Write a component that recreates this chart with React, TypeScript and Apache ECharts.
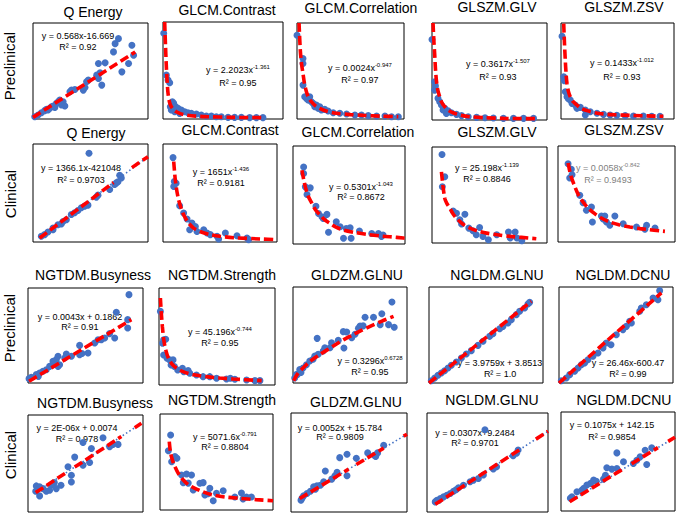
import React, { useEffect, useRef } from "react";
import * as echarts from "echarts";

// ---------- DATA (panel-relative values, 0-100 on both axes) ----------
// Row 1: Preclinical
const preQEnergyPts = [[1.5,2.4],[4.4,4.2],[7.3,6.6],[10.2,8.7],[11.7,10],[14.6,11.1],[16,12.8],[17.5,13.5],[20.4,16.3],[21.9,18],[23.3,19.7],[26.2,18],[27.7,13.5],[24.8,14.5],[19,12.1],[13.1,9.3],[32.1,28.4],[33.5,30.1],[36.4,30.8],[43.7,30.1],[45.2,32.9],[46.6,38.8],[48.1,40.5],[55.4,45.7],[56.9,42.2],[58.3,48.1],[59.8,35.3],[56.9,57.8],[62.7,58.5],[71.4,78.5],[70,69.9],[74.3,83.7],[77.3,49.1],[83.1,57.8],[86,76.8],[87.5,66.4]];
const preQEnergyFit = [[[0,1.7],[88.9,69.9]]];

const preContrastPts = [[0.6,88.4],[2.8,45.2],[4.2,40.1],[5.6,37.3],[6.1,12.7],[7.8,17.8],[8.9,16.1],[10.6,12.7],[12.5,11],[15.3,9.2],[18.1,7.5],[20.8,6.5],[23.6,5.8],[27.8,5.1],[31.9,4.1],[36.1,3.1],[40.3,3.1],[44.4,2.4],[48.6,2.4],[54.2,1.7],[59.7,1.7],[65.3,1.7],[72.2,1.4],[77.8,1.4],[83.3,1.4],[13.9,5.8],[9.7,7.5],[6.9,9.2]];
const preContrastFit = [[[1.4,100],[2.1,75],[2.8,53.8],[3.5,38],[4.2,26.4],[5.5,17],[6.9,12.7],[8.5,10],[11.1,7.5],[15,5.3],[19.4,4.1],[27,3],[36.1,2.4],[58.3,1.7],[84.7,1.4]]];

const preCorrelationPts = [[0,87.2],[5.6,63],[5.6,57.8],[5.6,35.3],[7.2,23.2],[8.8,21.5],[11.9,23.2],[10.3,19.7],[13.4,18],[15,16.3],[18.1,14.5],[21.3,12.8],[22.8,9.3],[25.9,10],[29.1,8.3],[33.8,6.6],[40,5.9],[46.3,5.2],[54.1,4.2],[60.3,4.2],[66.6,3.5],[74.4,3.1],[82.2,3.1],[88.4,2.4],[94.7,2.4],[19.7,11.1],[16.6,12.8]];
const preCorrelationFit = [[[1.9,100],[3.1,71.6],[4.3,57],[5.6,47.4],[7,37],[8.8,28.4],[10.8,22.5],[13.4,18],[17,14],[21.3,11.1],[28,8],[36.9,5.9],[50,4.6],[61.9,3.8],[78,3],[94.7,2.4]]];

const preGlvPts = [[0,82.9],[2.3,39.4],[2.3,30.8],[3,35],[5.2,22.3],[6.7,18.8],[8.2,15.4],[11.1,12],[14,9.6],[16.9,7.5],[21.3,5.8],[25.7,4.5],[31.5,3.4],[38.8,2.7],[46.1,2.4],[53.4,2.1],[62.1,1.7],[70.8,1.7],[79.6,1.7],[88.3,1.7],[12.5,6.8],[9.6,10.3]];
const preGlvFit = [[[0.9,100],[1.6,82],[2.3,68.5],[3,53],[3.8,41.1],[5,31],[6.7,24],[8.5,18],[11.1,13.7],[14.5,10],[18.4,7.5],[25,5],[32.9,3.4],[45,2.4],[62.1,1.7],[89.8,1.4]]];

const preZsvPts = [[0.9,86.2],[2.4,44],[2.9,40],[3.8,28.4],[5.3,23.2],[8.2,19.7],[9.7,16.3],[12.6,14.5],[17.1,12.1],[21.5,9.3],[21.5,4.2],[25.9,7.6],[31.8,5.9],[37.6,4.8],[43.5,4.2],[49.4,3.8],[56.8,3.5],[64.1,3.1],[72.9,3.1],[80.3,2.8],[87.6,2.8],[14.1,11.1],[6.5,21]];
const preZsvFit = [[[2.4,99.3],[3.1,78],[3.8,61.2],[4.5,47],[5.3,37],[6.5,29],[8.2,23.2],[10.8,18],[14.1,14.5],[18,11],[22.9,8.7],[30,6.5],[37.6,5.2],[48,4.4],[61.2,3.8],[90.6,2.8]]];

// Row 2: Clinical
const cliQEnergyPts = [[48.7,90.5],[7.2,5.8],[10.1,7.5],[13,10.2],[17.4,14.2],[17.4,12.5],[21.7,17.6],[24.6,18.3],[26.1,21],[29,22.7],[33.3,28.1],[36.2,29.8],[39.1,32.2],[42,34.9],[44.9,36.6],[47.8,37.6],[55.1,45.8],[56.5,47.8],[66.7,53.6],[71,58.6],[72.5,60.3],[73.9,61.4],[75.4,68.1],[76.8,65.4]];
const cliQEnergyFit = [[[5.8,4.1],[70,60.7]],[[86,75.9],[100,87.1]]];
const cliQEnergyTrend = [[5.8,4.1],[100,87.1]];

const cliContrastPts = [[8.8,86.1],[9.9,61.7],[9.4,56.6],[11.5,60],[14.6,36.9],[18.1,29.5],[21.1,23.4],[23.4,12.5],[25.4,19.3],[28.4,15.9],[29.8,10.8],[35.7,12.5],[38.6,9.2],[41.5,7.5],[47.4,5.8],[48.8,3.1],[54.7,9.2],[64.9,6.4],[73.7,4.1],[75.1,2.4]];
const cliContrastFit = [[[9.4,82],[10.1,72],[10.8,63.4],[12,53],[13.7,43.1],[15.8,35],[18.1,27.8],[22,20],[26.9,14.2],[33,10.5],[41.5,7.5],[50,5.8],[62,4.4],[85.4,3.1],[100,2.4]]];

const cliCorrelationPts = [[9.5,78.6],[9.5,71.9],[11,58.3],[15.4,57.3],[12.5,50.5],[20.5,38.6],[22.8,31.2],[25.8,27.8],[30.3,30.2],[27,26],[31.7,11.9],[38.6,22.7],[42.1,17.6],[45.1,5.8],[47.5,15.9],[51,16.6],[51.9,5.8],[59.3,13.2],[70.3,10.8],[76.3,10.8],[80.4,9.2],[79,7.8]];
const cliCorrelationFit = [[[8,75.3],[9.5,66],[11,58.3],[13.5,49],[16.9,41.4],[20,35],[24.3,29.5],[28,25],[33.2,21],[38,17.5],[45.1,14.2],[55,11.8],[65.9,9.8],[80,8],[92.6,6.8],[106,5.1]]];

const cliGlvPts = [[8.7,92.1],[11.1,69],[9,58.6],[18.4,33.4],[21.3,31],[28.6,30],[24.2,24.1],[25.7,19.7],[35.6,12.8],[41.4,16.2],[38.5,8.6],[44.3,6.9],[49,3.4],[56.3,8.6],[66.5,11.4],[68,5.2],[72.3,11.4],[73.8,5.2],[78.1,2.4],[32,15.5]];
const cliGlvFit = [[[8.2,74.1],[9.5,60],[11.1,46.6],[13,41],[15.5,36.2],[18.5,30],[22.7,24.1],[27,19.5],[32.9,15.5],[40,12.5],[47.5,10.3],[57,8.5],[68,6.9],[90.7,4.5]]];

const cliZsvPts = [[8.6,81.6],[11.4,75.7],[10,66.7],[12,70],[18.6,48.6],[21.4,41],[24.3,33],[28.6,36.5],[29.4,20.8],[37.1,27.1],[40,27.1],[41.4,20.8],[44.3,17.4],[48.6,27.1],[55.7,19.1],[67.1,15.6],[74.3,13.2],[75.7,17.4],[82.9,14.6],[38.6,24]];
const cliZsvFit = [[[8.6,82.3],[11,69],[14.3,58],[17.5,49],[21.4,41.7],[26,35],[31.4,29.5],[37,25],[44.3,20.8],[52,18],[61.4,15.6],[75,13.2],[91.4,11.1]]];

// Row 3: Preclinical
const preBusynessPts = [[87.8,93],[76.8,74.4],[86.7,66.7],[86.7,57.9],[75.4,47.4],[71,52],[66.7,47.4],[63.8,45.6],[60.9,45.6],[58,42.1],[52.2,31.6],[44.9,39.6],[44.9,29.8],[47,31],[37.7,28.1],[33.3,30.5],[31.9,26.3],[26.1,28.1],[24.6,24.6],[26.1,17.5],[21.7,22.8],[21.7,19.3],[18.8,17.5],[15.9,14],[13,12.3],[10.1,10.5],[7.2,8.8],[2.9,6],[0.9,4.6],[27.5,19.3],[9,7]];
const preBusynessFit = [[[0.9,1.8],[89.9,66.7]]];

const preStrengthPts = [[1.2,75.9],[4,46.6],[5.8,47.2],[3,43],[4,31],[6.9,27.6],[9.2,25.9],[12.1,25.9],[10.4,20.7],[13.3,19],[16.1,15.5],[20.2,17.2],[21.3,13.8],[25.1,14.8],[26.5,12.1],[32.3,10.3],[38,8.6],[43.8,8.6],[49.6,6.9],[58.2,6.2],[65.4,5.9],[75.5,5.2],[82.7,4.5],[87,4.5],[61.5,6.9]];
const preStrengthFit = [[[1.2,89.7],[2,74],[2.9,60.3],[4.2,46],[5.8,36.2],[8,28],[10.7,22.4],[15,17.5],[20.7,13.8],[30,10.5],[40.9,8.6],[52,7.2],[64,6.2],[88.5,4.5]]];

const preGldzmPts = [[86.8,84.4],[77.9,72.2],[70.6,68.4],[63.2,68.4],[76.5,60.8],[83.8,60.8],[88.8,58],[58.8,59.4],[57.4,57],[61.5,59.5],[54.4,50.7],[51.5,47.2],[44.1,53.5],[47.1,53.1],[44.7,36.5],[39.7,44.4],[33.8,42],[32.4,36.8],[21.2,46.5],[26.5,33.3],[22.1,29.9],[19.1,28.1],[17.6,24.7],[14.7,22.9],[11.8,19.1],[8.8,15.6],[5.9,13.9],[2.9,8.7],[1.5,5.2],[27.9,36.8],[7,11],[4,9]];
const preGldzmFit = [[[0.6,2.4],[4,9.5],[8.8,15.6],[15,22.5],[23.5,29.5],[30,34.5],[38.2,40.6],[45,45.5],[52.9,50.3],[60,54.8],[67.6,59],[78,64.5],[88.2,69.4]]];

const preNgldmGlnuPts = [[2,2.4],[5,5.2],[7.9,8],[10.8,10.4],[13.7,12.8],[16.7,15.6],[19.6,18.4],[24,21.9],[28.4,26],[32.7,30.2],[37.1,33.7],[43,39.2],[47.4,43.4],[53.2,48.6],[56.1,51.4],[62,56.6],[64.9,59],[69.3,62.5],[72.2,66],[76.6,71.2],[79.5,74.7],[83.9,78.1],[86.8,82.3],[88.3,84]];
const preNgldmGlnuFit = [[[0,0],[89.8,85.1]]];

const preDcnuPts = [[88.3,96.2],[86.8,86.8],[82.5,88.5],[76.6,81.6],[72.2,78.1],[70.8,74.7],[63.5,62.5],[59.1,59],[56.1,55.6],[50.3,50.3],[45.6,39.9],[41.5,41.7],[38.6,36.5],[34.2,31.3],[29.8,27.8],[25.4,24.3],[22.5,20.8],[19.6,19.1],[16.7,15.6],[13.7,12.2],[9.4,8.7],[6.4,5.2],[2,2.4],[62,64.2]];
const preDcnuFit = [[[0,0],[89.8,93.8]]];

// Row 4: Clinical
const cliBusynessPts = [[65.2,76.6],[47.8,71.7],[55.1,65.5],[71,67.2],[73.9,69.7],[78.3,69.7],[40.6,56.6],[47.8,48.3],[53.6,51],[34.8,46.6],[37.7,37.9],[37.7,31],[28.7,27.6],[22.9,30.3],[20.3,27.6],[24.6,24.1],[18.8,22.4],[13,24.1],[7.2,26.9],[10.1,25.9],[6.7,21.4],[10.1,16.6],[15.9,21.4]];
const cliBusynessFit = [[[6.7,20],[33.3,40.7]],[[40.6,46.3],[81.2,77.9]],[[92.8,86.9],[98.6,91.4]]];
const cliBusynessTrend = [[6.7,20],[98.6,91.4]];

const cliStrengthPts = [[9.4,78.1],[7.4,61.8],[10.3,50.3],[13.2,55.6],[15,54],[19.1,36.5],[23.5,37.5],[27.9,36.5],[20.6,28.5],[25,28],[29.4,20.8],[35.3,27.8],[38.2,28.5],[39.7,15.6],[44.1,22.6],[47.1,9.7],[50,17.4],[55.9,20.1],[42.5,17],[66.2,13.5],[72.1,17.7],[76.5,13.5],[80.9,13.5],[73.5,11.5]];
const cliStrengthFit = [[[8.2,71.2],[9.4,59],[11,52],[13.2,45.1],[16.5,37.5],[20.6,31.3],[25,26.5],[30.9,22.6],[38,19],[47.1,15.6],[58,13.5],[70.6,12.2],[85,10.8],[100,9.7]]];

const cliGldzmPts = [[42,54.9],[48.3,58.3],[56.3,54.2],[48.3,36.6],[66.1,59.7],[71.8,57.3],[74.7,59.7],[73,56],[79.9,67.5],[39.7,40],[37.9,36.6],[35.1,33.2],[29.6,41.4],[28.2,30.5],[25.3,27.1],[22.4,26.4],[19.5,25.4],[21,23.1],[16.7,21],[13.8,18.6],[10.9,16.3],[8.6,11.9],[9.5,14]];
const cliGldzmFit = [[[7.5,13.6],[49.7,43.3]],[[56.3,47.9],[79.9,64.5]],[[97.1,76.6],[100,78.6]]];
const cliGldzmTrend = [[7.5,13.6],[100,78.6]];

const cliNgldmGlnuPts = [[47.9,83.1],[75.3,62.7],[74,59.3],[71.2,56.9],[57.5,45.8],[54.8,43.4],[46.6,37.3],[42.5,33.9],[38.4,32.2],[35.6,30.5],[30.1,27.1],[26,24.4],[21.9,21],[19.2,18.6],[16.4,16.9],[13.7,15.3],[11,13.6],[8.2,11.9],[6.8,10.2],[24,22.5],[10,12]];
const cliNgldmGlnuFit = [[[6.8,7.8],[78,64.1]],[[90,73.6],[100,81.5]]];
const cliNgldmGlnuTrend = [[6.8,7.8],[100,81.5]];

const cliDcnuPts = [[49,58.7],[75.2,47],[79.6,63.8],[73.8,61.4],[66.5,51.3],[63.5,48],[54.8,49.7],[49,43],[44.6,42.3],[40.2,43.6],[39,36.2],[37.3,32.2],[28.6,31.2],[26,27.9],[22.7,26.2],[18.4,21.1],[14,19.5],[9.6,14.4],[8.2,12.8],[69.4,54.7],[31,30],[20,23]];
const cliDcnuFit = [[[7.6,9.4],[55,42.8]],[[62,47.8],[85,64]],[[94,70.3],[100,74.5]]];
const cliDcnuTrend = [[7.6,9.4],[100,74.5]];

// ---------- TEXTS ----------
const titles = [
  "Q Energy", "GLCM.Contrast", "GLCM.Correlation", "GLSZM.GLV", "GLSZM.ZSV",
  "Q Energy", "GLCM.Contrast", "GLCM.Correlation", "GLSZM.GLV", "GLSZM.ZSV",
  "NGTDM.Busyness", "NGTDM.Strength", "GLDZM.GLNU", "NGLDM.GLNU", "NGLDM.DCNU",
  "NGTDM.Busyness", "NGTDM.Strength", "GLDZM.GLNU", "NGLDM.GLNU", "NGLDM.DCNU",
];
const equations = [
  "y = 0.568x-16.669", "y = 2.2023x", "y = 0.0024x", "y = 0.3617x", "y = 0.1433x",
  "y = 1366.1x-421048", "y = 1651x", "y = 0.5301x", "y = 25.198x", "y = 0.0058x",
  "y = 0.0043x + 0.1862", "y = 45.196x", "y = 0.3296x", "y = 3.9759x + 3.8513", "y = 26.46x-600.47",
  "y = 2E-06x + 0.0074", "y = 5071.6x", "y = 0.0052x + 15.784", "y = 0.0307x+9.2484", "y = 0.1075x + 142.15",
];
const exponents = [
  "", "-1.361", "-0.947", "-1.507", "-1.012",
  "", "-1.436", "-1.043", "-1.139", "-0.842",
  "", "-0.744", "0.6728", "", "",
  "", "-0.791", "", "", "",
];
const rSquared = [
  "R² = 0.92", "R² = 0.95", "R² = 0.97", "R² = 0.93", "R² = 0.93",
  "R² = 0.9703", "R² = 0.9181", "R² = 0.8672", "R² = 0.8846", "R² = 0.9493",
  "R² = 0.91", "R² = 0.95", "R² = 0.95", "R² = 1.0", "R² = 0.99",
  "R² = 0.978", "R² = 0.8804", "R² = 0.9809", "R² = 0.9701", "R² = 0.9854",
];
const rowLabels = ["Preclinical", "Clinical", "Preclinical", "Clinical"];

const panelPoints = [
  preQEnergyPts, preContrastPts, preCorrelationPts, preGlvPts, preZsvPts,
  cliQEnergyPts, cliContrastPts, cliCorrelationPts, cliGlvPts, cliZsvPts,
  preBusynessPts, preStrengthPts, preGldzmPts, preNgldmGlnuPts, preDcnuPts,
  cliBusynessPts, cliStrengthPts, cliGldzmPts, cliNgldmGlnuPts, cliDcnuPts,
];
const panelFits = [
  preQEnergyFit, preContrastFit, preCorrelationFit, preGlvFit, preZsvFit,
  cliQEnergyFit, cliContrastFit, cliCorrelationFit, cliGlvFit, cliZsvFit,
  preBusynessFit, preStrengthFit, preGldzmFit, preNgldmGlnuFit, preDcnuFit,
  cliBusynessFit, cliStrengthFit, cliGldzmFit, cliNgldmGlnuFit, cliDcnuFit,
];
const panelTrends: (number[][] | null)[] = [
  null, null, null, null, null,
  cliQEnergyTrend, null, null, null, null,
  null, null, null, null, null,
  cliBusynessTrend, null, cliGldzmTrend, cliNgldmGlnuTrend, cliDcnuTrend,
];

// ---------- LAYOUT (pixels) ----------
const boxes = [
  [33, 23, 148, 119], [163, 22, 283, 119], [297, 23, 404, 119], [432, 23, 547, 120], [561, 23, 674, 119],
  [33, 144, 148, 242], [163, 144, 277, 242], [293, 146, 405, 244], [432, 147, 547, 243], [558, 146, 675, 242],
  [28, 288, 143, 383], [159, 288, 275, 385], [293, 287, 407, 383], [429, 287, 543, 383], [559, 287, 673, 383],
  [28, 415, 143, 512], [160, 414, 273, 510], [291, 413, 407, 512], [427, 413, 548, 512], [561, 412, 675, 511],
];
const titlePos = [
  [93, 12], [227, 10], [361, 8], [497, 7], [624, 7],
  [96, 133], [230, 130], [358, 132], [497, 132], [624, 130],
  [93, 275], [222, 275], [357, 275], [497, 275], [623, 275],
  [95, 403], [222, 400], [356, 402], [492, 400], [624, 400],
];
const eqPos = [
  [78, 36, 47], [238, 70, 83], [360, 68, 80], [498, 64, 77], [622, 63, 77],
  [81, 168, 180], [221, 172, 183], [361, 187, 197], [487, 168, 179], [608, 168, 180],
  [80, 317, 327], [220, 332, 343], [370, 361, 372], [500, 363, 374], [628, 363, 374],
  [77, 428, 439], [225, 437, 447], [340, 428, 437], [475, 433, 443], [612, 425, 437],
];
const rowLabelPos = [[9, 66], [10, 194], [9, 328], [10, 455]];
const greyEquation = [9];

const FONT = '"Liberation Sans", Arial, Helvetica, sans-serif';
const BLUE = "#4472C4";
const RED = "#FF0000";

function buildOption() {
  const grid: any[] = [];
  const xAxis: any[] = [];
  const yAxis: any[] = [];
  const series: any[] = [];
  const graphic: any[] = [];

  boxes.forEach((b, i) => {
    grid.push({
      left: b[0], top: b[1], width: b[2] - b[0], height: b[3] - b[1],
      show: true, borderColor: "#000", borderWidth: 1, backgroundColor: "transparent",
    });
    xAxis.push({ gridIndex: i, type: "value", min: 0, max: 100, show: false });
    yAxis.push({ gridIndex: i, type: "value", min: 0, max: 100, show: false });

    const trend = panelTrends[i];
    if (trend) {
      series.push({
        type: "line", xAxisIndex: i, yAxisIndex: i, data: trend, symbol: "none",
        lineStyle: { color: BLUE, width: 1.6, type: [1.5, 2.5] }, clip: false, silent: true,
      });
    }
    series.push({
      type: "scatter", xAxisIndex: i, yAxisIndex: i, data: panelPoints[i],
      symbol: "circle", symbolSize: 7, itemStyle: { color: BLUE, opacity: 1 }, clip: false, silent: true,
    });
    const isPower = exponents[i] !== "";
    panelFits[i].forEach((seg) => {
      series.push({
        type: "line", xAxisIndex: i, yAxisIndex: i, data: seg, symbol: "none",
        smooth: isPower ? 0.3 : false,
        lineStyle: { color: RED, width: 3.6, type: [9, 4], cap: "butt" }, clip: false, silent: true,
      });
    });

    const t = titlePos[i];
    graphic.push({
      type: "text", x: t[0], y: t[1], silent: true,
      style: { text: titles[i], fontSize: 14, fontFamily: FONT, fill: "#000",
        align: "center", verticalAlign: "middle", textAlign: "center", textVerticalAlign: "middle" },
    });
    const e = eqPos[i];
    const col = greyEquation.includes(i) ? "#808080" : "#000";
    const eqText = exponents[i] ? `{b|${equations[i]}}{s|${exponents[i]}}` : `{b|${equations[i]}}`;
    graphic.push({
      type: "text", x: e[0], y: e[1], silent: true,
      style: {
        text: eqText, fontSize: 9, fontFamily: FONT, fill: col,
        align: "center", verticalAlign: "middle", textAlign: "center", textVerticalAlign: "middle",
        rich: {
          b: { fontSize: 9, fontFamily: FONT, fill: col, lineHeight: 12 },
          s: { fontSize: 6, fontFamily: FONT, fill: col, lineHeight: 7, verticalAlign: "top" },
        },
      },
    });
    graphic.push({
      type: "text", x: e[0], y: e[2], silent: true,
      style: { text: rSquared[i], fontSize: 9, fontFamily: FONT, fill: col,
        align: "center", verticalAlign: "middle", textAlign: "center", textVerticalAlign: "middle" },
    });
  });

  rowLabels.forEach((lab, r) => {
    const p = rowLabelPos[r];
    graphic.push({
      type: "text", x: p[0], y: p[1], rotation: Math.PI / 2, silent: true,
      style: { text: lab, fontSize: 15, fontFamily: FONT, fill: "#000",
        align: "center", verticalAlign: "middle", textAlign: "center", textVerticalAlign: "middle" },
    });
  });

  return {
    animation: false,
    backgroundColor: "#fff",
    grid, xAxis, yAxis, series, graphic,
  };
}

export default function App() {
  const ref = useRef<HTMLDivElement>(null);
  useEffect(() => {
    document.body.style.margin = "0";
    if (!ref.current) return;
    const chart = echarts.init(ref.current, undefined, { renderer: "svg" });
    chart.setOption(buildOption());
    return () => chart.dispose();
  }, []);
  return <div ref={ref} style={{ width: 677, height: 513 }} />;
}
